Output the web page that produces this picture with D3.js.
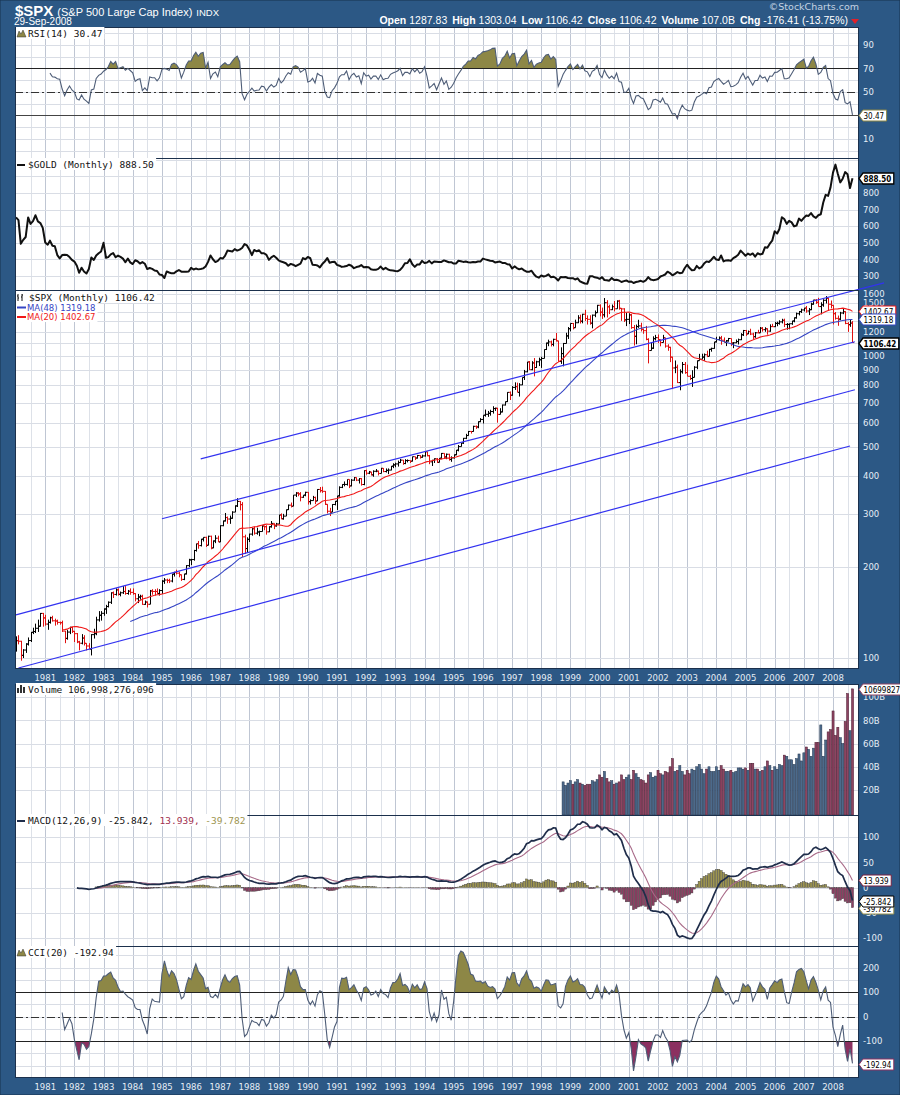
<!DOCTYPE html>
<html>
<head>
<meta charset="utf-8">
<script src="https://cdn.jsdelivr.net/npm/d3@7"></script>
<style>
body { margin: 0; background: #2c5885; }
svg { display: block; }
</style>
</head>
<body>
<svg id="chart"></svg>
<script>
// monthly data, Jan 1980 .. Sep 2008
const startYear = 1980;
const firstOpen = 107.94;

const spxClose = [
  114.16,113.66,102.09,106.29,111.24,114.24,121.67,122.38,125.46,127.47,140.52,135.76,
  129.55,131.27,136.00,132.81,132.59,131.21,130.92,122.79,116.18,121.89,126.35,122.55,
  120.40,113.11,111.96,116.44,111.88,109.61,107.09,119.51,120.42,133.71,138.54,140.64,
  145.30,148.06,152.96,164.42,162.39,168.11,162.56,164.40,166.07,163.55,166.40,164.93,
  163.41,157.06,159.18,160.05,150.55,153.18,150.66,166.68,166.10,166.09,163.58,167.24,
  179.63,181.18,180.66,179.83,189.55,191.85,190.92,188.63,182.08,189.82,202.17,211.28,
  211.78,226.92,238.90,235.52,247.35,250.84,236.12,252.93,231.32,243.98,249.22,242.17,
  274.08,284.20,291.70,288.36,290.10,304.00,318.66,329.80,321.83,251.79,230.30,247.08,
  257.07,267.82,258.89,261.33,262.16,273.50,272.02,261.52,271.91,278.97,273.70,277.72,
  297.47,288.86,294.87,309.64,320.52,317.98,346.08,351.45,349.15,340.36,345.99,353.40,
  329.08,331.89,339.94,330.80,361.23,358.02,356.15,322.56,306.05,304.00,322.22,330.22,
  343.93,367.07,375.22,375.34,389.83,371.16,387.81,395.43,387.86,392.46,375.22,417.09,
  408.79,412.70,403.69,414.95,415.35,408.14,424.21,414.03,417.80,418.68,431.35,435.71,
  438.78,443.38,451.67,440.19,450.19,450.53,448.13,463.56,458.93,467.83,461.79,466.45,
  481.61,467.14,445.77,450.91,456.50,444.27,458.26,475.49,462.69,472.35,453.69,459.27,
  470.42,487.39,500.71,514.71,533.40,544.75,562.06,561.88,584.41,581.50,605.37,615.93,
  636.02,640.43,645.50,654.17,669.12,670.63,639.95,651.99,687.31,705.27,757.02,740.74,
  786.16,790.82,757.12,801.34,848.28,885.14,954.31,899.47,947.28,914.62,955.40,970.43,
  980.28,1049.34,1101.75,1111.75,1090.82,1133.84,1120.67,957.28,1017.01,1098.67,1163.63,1229.23,
  1279.64,1238.33,1286.37,1335.18,1301.84,1372.71,1328.72,1320.41,1282.71,1362.93,1388.91,1469.25,
  1394.46,1366.42,1498.58,1452.43,1420.60,1454.60,1430.83,1517.68,1436.51,1429.40,1314.95,1320.28,
  1366.01,1239.94,1160.33,1249.46,1255.82,1224.42,1211.23,1133.58,1040.94,1059.78,1139.45,1148.08,
  1130.20,1106.73,1147.39,1076.92,1067.14,989.82,911.62,916.07,815.28,885.76,936.31,879.82,
  855.70,841.15,848.18,916.92,963.59,974.50,990.31,1008.01,995.97,1050.71,1058.20,1111.92,
  1131.13,1144.94,1126.21,1107.30,1120.68,1140.84,1101.72,1104.24,1114.58,1130.20,1173.82,1211.92,
  1181.27,1203.60,1180.59,1156.85,1191.50,1191.33,1234.18,1220.33,1228.81,1207.01,1249.48,1248.29,
  1280.08,1280.66,1294.83,1310.61,1270.09,1270.20,1276.66,1303.82,1335.85,1377.94,1400.63,1418.30,
  1438.24,1406.82,1420.86,1482.37,1530.62,1503.35,1455.27,1473.99,1526.75,1549.38,1481.14,1468.36,
  1378.55,1330.63,1322.70,1385.59,1400.38,1280.00,1267.38,1282.83,1106.42
];

const spxHigh = [
  118,119,114,107,112,117,122,126,130,134,141,141,
  139,134,137,138,135,134,132,133,123,124,127,127,
  123,121,114,120,119,112,112,120,125,137,143,143,
  146,150,154,165,166,170,170,166,173,173,168,170,
  170,164,163,162,162,155,154,168,169,169,170,169,
  181,184,183,183,190,193,196,193,189,190,203,213,
  213,228,239,244,248,251,252,254,254,245,255,254,
  275,285,302,294,296,306,320,338,331,328,256,251,
  258,269,272,270,264,275,274,275,273,284,279,280,
  298,301,300,310,322,327,346,354,354,354,346,355,
  354,335,344,342,362,368,369,357,323,314,323,331,
  344,370,376,384,390,390,391,397,396,394,394,418,
  420,416,413,418,422,417,426,425,424,424,432,441,
  443,450,456,452,455,454,450,464,464,470,469,471,
  482,482,470,453,458,459,459,477,476,475,474,465,
  472,488,507,515,535,552,564,564,587,588,607,622,
  636,664,657,663,681,674,673,671,690,706,758,762,
  794,817,815,812,848,898,954,961,960,983,963,986,
  993,1050,1106,1131,1123,1139,1190,1122,1067,1103,1192,1245,
  1280,1284,1317,1363,1368,1377,1420,1361,1362,1369,1412,1474,
  1479,1444,1553,1528,1476,1478,1518,1526,1531,1439,1437,1389,
  1383,1376,1264,1269,1316,1287,1230,1256,1143,1110,1160,1173,
  1176,1133,1173,1147,1092,1071,994,965,935,902,954,954,
  935,865,896,924,965,1015,1016,1018,1040,1054,1064,1112,
  1156,1159,1164,1150,1128,1146,1141,1110,1132,1140,1188,1218,
  1218,1212,1229,1192,1199,1219,1245,1245,1243,1233,1271,1276,
  1295,1297,1311,1326,1327,1284,1280,1306,1340,1390,1407,1432,
  1441,1462,1439,1499,1531,1540,1556,1504,1539,1576,1555,1524,
  1471,1396,1359,1398,1440,1405,1292,1314,1303
];

const spxLow = [
  105,111,98,100,104,110,113,120,121,122,127,127,
  128,124,130,132,128,129,129,122,112,115,120,121,
  113,112,106,111,110,106,107,102,116,119,132,133,
  138,140,147,151,158,161,161,160,163,162,162,162,
  162,154,152,156,150,150,147,151,162,161,163,161,
  163,176,177,177,178,186,189,185,180,181,189,200,
  203,210,225,230,234,243,233,236,229,231,240,242,
  242,273,283,278,278,289,304,316,308,216,221,223,
  242,254,256,256,253,262,265,256,261,270,267,272,
  278,288,287,296,309,315,318,341,343,330,339,343,
  322,322,332,323,331,353,352,321,301,295,304,320,
  309,342,365,370,372,365,370,386,385,378,372,373,
  404,406,402,398,412,402,409,412,411,406,418,425,
  428,430,442,436,438,444,442,447,452,457,457,460,
  464,465,438,432,442,442,444,455,457,455,450,446,
  457,469,483,501,511,530,544,553,561,573,576,603,
  597,629,628,634,644,657,601,640,650,685,703,714,
  738,771,757,733,800,832,882,898,896,855,912,925,
  912,980,1045,1076,1074,1075,1115,957,940,923,1098,1137,
  1205,1223,1247,1283,1279,1281,1304,1269,1268,1233,1342,1387,
  1350,1325,1340,1339,1374,1417,1403,1431,1421,1305,1294,1254,
  1274,1228,1081,1092,1237,1204,1183,1126,944,1041,1054,1124,
  1101,1075,1108,1064,1039,953,776,876,813,769,873,872,
  856,832,789,861,903,964,975,963,990,996,1032,1055,
  1107,1124,1088,1107,1077,1114,1078,1060,1101,1090,1127,1163,
  1164,1180,1171,1137,1147,1188,1192,1202,1201,1175,1201,1246,
  1245,1253,1268,1280,1245,1220,1224,1266,1291,1327,1360,1386,
  1403,1389,1364,1416,1476,1485,1454,1371,1453,1490,1407,1436,
  1270,1317,1257,1312,1373,1272,1200,1247,1106
];

const goldClose = [
  653,637,494,518,535,653,614,631,666,629,619,590,
  502,489,513,482,479,426,406,426,428,427,414,397,
  387,362,320,350,327,315,342,411,397,423,437,448,
  500,410,414,430,438,413,423,415,405,383,405,382,
  372,395,389,375,384,374,342,348,343,333,330,309,
  306,288,327,321,316,317,328,336,326,325,326,327,
  349,339,345,340,342,346,357,385,424,401,384,391,
  408,405,421,453,451,448,462,453,459,469,492,484,
  458,426,457,449,455,437,437,427,397,412,422,410,
  394,387,383,377,362,373,368,359,367,375,408,401,
  415,407,368,367,363,352,372,387,408,380,384,386,
  367,362,355,357,360,368,362,347,354,357,366,353,
  354,353,341,337,337,343,357,340,349,339,334,333,
  330,329,337,354,377,378,401,371,355,369,370,391,
  378,381,391,376,387,386,384,385,394,389,383,383,
  375,376,392,389,385,387,383,382,384,383,387,387,
  405,400,396,392,391,382,385,387,379,379,371,369,
  345,358,348,340,345,334,326,325,332,311,296,290,
  303,297,301,310,293,296,288,273,294,292,294,288,
  287,287,279,286,268,261,255,254,299,299,292,290,
  283,293,276,275,272,288,276,277,273,264,269,273,
  265,267,258,264,267,271,265,273,293,279,275,277,
  282,297,302,309,326,318,304,313,324,317,319,347,
  368,348,335,336,361,346,354,375,388,384,398,416,
  399,396,424,388,394,395,391,408,416,428,453,438,
  422,435,428,436,417,437,430,434,473,470,495,513,
  569,556,583,654,643,614,633,623,599,604,646,632,
  650,665,662,679,659,650,666,672,743,789,783,834,
  923,971,916,864,886,926,913,830,888.5
];

// volume in billions, Oct 1998 .. Sep 2008
const volumeStart = 225;
const volumeB = [
  27,24,26,
  28,25,27,29,26,25,24,25,25,28,27,29,
  33,31,36,30,27,28,25,26,27,33,29,31,
  33,29,37,34,31,29,28,26,33,35,31,32,
  37,34,33,36,35,40,47,36,37,41,36,33,
  37,34,38,37,40,42,38,34,38,40,36,36,
  40,37,41,38,36,36,37,35,36,39,39,38,
  39,37,43,43,38,38,36,37,40,45,41,37,
  40,38,42,41,50,49,46,46,42,47,51,45,
  52,57,55,49,56,61,61,76,49,63,70,72,
  88,67,74,65,60,79,103,71,107
];

// trend lines on the price panel: [year, month index, value]
const trendLines = [
  [[1986, 4, 456], [2009, 9, 1744]],
  [[1985, 0, 289], [2008, 9, 1113]],
  [[1980, 0, 139], [2008, 9, 772]],
  [[1980, 1, 92.7], [2008, 7, 503]]
];

// last values as printed by the chart
const lastCci = -192.94;
const lastVolume = '106,998,276,096';

const years = d3.range(1981, 2009);
const rsiTicks = [10, 50, 70, 90];
const goldTicks = [300, 400, 500, 600, 700, 800];
const spxTicks = [100, 200, 300, 400, 500, 600, 700, 800, 900, 1000, 1200, 1500, 1600];
const volTicks = [20, 40, 60, 80, 100];
const macdTicks = [-100, -50, 0, 50, 100];
const cciTicks = [-100, 0, 100, 200];

const headerStats = [['Open', '1287.83'], ['High', '1303.04'], ['Low', '1106.42'],
  ['Close', '1106.42'], ['Volume', '107.0B'], ['Chg', '-176.41 (-13.75%)']];

// ---------- indicators ----------
const n = spxClose.length;
const months = d3.range(n).map(i => new Date(startYear, i, 1));
const spxOpen = spxClose.map((c, i) => i === 0 ? firstOpen : spxClose[i - 1]);

function sma(arr, len) {
  return arr.map((_, i) => i < len - 1 ? null : d3.mean(arr.slice(i - len + 1, i + 1)));
}
function ema(arr, len) {
  const out = arr.map(() => null);
  const k = 2 / (len + 1);
  const first = arr.findIndex(v => v != null);
  const seedEnd = first + len - 1;
  let prev = d3.mean(arr.slice(first, seedEnd + 1));
  out[seedEnd] = prev;
  for (let i = seedEnd + 1; i < arr.length; i++) {
    prev = arr[i] * k + prev * (1 - k);
    out[i] = prev;
  }
  return out;
}
function rsi(arr, len) {
  const out = arr.map(() => null);
  let g = 0, l = 0;
  for (let i = 1; i <= len; i++) {
    const d = arr[i] - arr[i - 1];
    if (d > 0) g += d; else l -= d;
  }
  g /= len; l /= len;
  out[len] = 100 - 100 / (1 + g / l);
  for (let i = len + 1; i < arr.length; i++) {
    const d = arr[i] - arr[i - 1];
    g = (g * (len - 1) + Math.max(d, 0)) / len;
    l = (l * (len - 1) + Math.max(-d, 0)) / len;
    out[i] = 100 - 100 / (1 + g / l);
  }
  return out;
}
function cci(h, l, c, len) {
  const tp = c.map((v, i) => (h[i] + l[i] + v) / 3);
  return tp.map((v, i) => {
    if (i < len - 1) return null;
    const win = tp.slice(i - len + 1, i + 1);
    const m = d3.mean(win);
    const md = d3.mean(win, t => Math.abs(t - m));
    return (v - m) / (0.015 * md);
  });
}

const ma20 = sma(spxClose, 20);
const ma48 = sma(spxClose, 48);
const rsi14 = rsi(spxClose, 14);
const ema12 = ema(spxClose, 12);
const ema26 = ema(spxClose, 26);
const macd = spxClose.map((_, i) => ema26[i] == null ? null : ema12[i] - ema26[i]);
const signal = ema(macd, 9);
const hist = macd.map((m, i) => signal[i] == null ? null : m - signal[i]);
const cci20 = cci(spxHigh, spxLow, spxClose, 20);

// ---------- layout ----------
const left = 15, right = 859;
const svg = d3.select('#chart').attr('width', 900).attr('height', 1095);
svg.append('rect').attr('width', 900).attr('height', 1095)
  .attr('fill', '#2c5885').attr('stroke', '#17324f');

const x = d3.scaleTime()
  .domain([new Date(1980, 0, 1), new Date(2008, 0, 1)])
  .range([16, 833]);

const yRsi = d3.scaleLinear().domain([-6.2, 105.3]).range([158, 27]);
const yGold = d3.scaleLinear().domain([215.7, 1011]).range([290, 158]);
const ySpx = d3.scaleLog().domain([92.7, 1651]).range([668, 290]);
const yVol = d3.scaleLinear().domain([-1.5, 111.2]).range([815, 684]);
const yMacd = d3.scaleLinear().domain([-115.8, 143.6]).range([946, 815]);
const yCci = d3.scaleLinear().domain([-246.9, 287.8]).range([1077, 946]);

const halfYears = d3.timeMonths(new Date(1980, 6, 1), new Date(2008, 7, 1), 6);
const defs = svg.append('defs');
const axisFont = 'DejaVu Sans, Verdana, sans-serif';
const boxFont = 'DejaVu Sans Condensed, DejaVu Sans, sans-serif';
const monoFont = 'DejaVu Sans Mono, monospace';

function makePanel(id, y, gridVals, ticks, fmt) {
  const [bottom, top] = y.range();
  const g = svg.append('g');
  g.append('rect').attr('x', left).attr('y', top)
    .attr('width', right - left).attr('height', bottom - top).attr('fill', '#fff');
  defs.append('clipPath').attr('id', id).append('rect')
    .attr('x', left).attr('y', top).attr('width', right - left).attr('height', bottom - top);

  g.append('g').selectAll('line').data(halfYears).join('line')
    .attr('x1', d => Math.round(x(d)) + 0.5).attr('x2', d => Math.round(x(d)) + 0.5)
    .attr('y1', top).attr('y2', bottom)
    .attr('stroke', d => d.getMonth() === 0 ? '#bfc6d3' : '#dde1e8');
  g.append('g').selectAll('line').data(gridVals).join('line')
    .attr('x1', left).attr('x2', right)
    .attr('y1', d => Math.round(y(d)) + 0.5).attr('y2', d => Math.round(y(d)) + 0.5)
    .attr('stroke', '#d9dde5');

  const axis = d3.axisRight(y).tickValues(ticks).tickSize(0).tickPadding(4).tickFormat(fmt);
  const ax = svg.append('g').attr('transform', `translate(${right},0)`).call(axis);
  ax.select('.domain').remove();
  ax.selectAll('text').attr('fill', '#e6edf5')
    .style('font', `8.5px ${axisFont}`);

  const content = svg.append('g').attr('clip-path', `url(#${id})`);
  return { g, content, top, bottom };
}

function border(p) {
  svg.append('rect').attr('x', left + 0.5).attr('y', p.top + 0.5)
    .attr('width', right - left - 1).attr('height', p.bottom - p.top)
    .attr('fill', 'none').attr('stroke', '#1b304c');
}

function hline(p, y, v, stroke, dash) {
  p.content.append('line').attr('x1', left).attr('x2', right)
    .attr('y1', Math.round(y(v)) + 0.5).attr('y2', Math.round(y(v)) + 0.5)
    .attr('stroke', stroke).attr('stroke-width', 1)
    .attr('stroke-dasharray', dash || null);
}

function legend(px, py, parts, icon) {
  const t = svg.append('text').attr('x', px).attr('y', py)
    .style('font', `9.5px ${monoFont}`);
  parts.forEach(([s, c]) => t.append('tspan').attr('fill', c).text(s));
  const bb = t.node().getBBox();
  svg.insert('rect', () => t.node())
    .attr('x', 16).attr('y', bb.y - 1).attr('width', bb.x + bb.width - 14).attr('height', bb.height + 1)
    .attr('fill', '#fff');
  if (icon) icon(py);
  return t;
}

function valueBox(yPos, label, stroke, bold, color) {
  const g = svg.append('g').attr('transform', `translate(${right},${Math.round(yPos) + 0.5})`);
  const t = g.append('text').attr('x', 4.5).attr('y', 3).text(label)
    .attr('fill', color || '#000')
    .style('font', `${bold ? 'bold ' : ''}8px ${boxFont}`);
  const w = t.node().getComputedTextLength() + 7;
  g.insert('path', 'text').attr('d', `M0,0 L4,-5.5 H${w} V5.5 H4 Z`)
    .attr('fill', '#fff').attr('stroke', stroke).attr('stroke-width', bold ? 1.3 : 1);
}

function yearLabels(yPos) {
  svg.append('g').selectAll('text').data(years).join('text')
    .attr('x', d => x(new Date(d, 0, 1))).attr('y', yPos)
    .attr('text-anchor', 'middle').attr('fill', '#e6edf5')
    .style('font', `8.5px ${axisFont}`)
    .text(d => d);
}

const lineOf = (y, arr) => d3.line()
  .defined(i => arr[i] != null)
  .x(i => x(months[i])).y(i => y(arr[i]));
const idx = d3.range(n);

// ---------- header ----------
const head = svg.append('text').attr('x', 15).attr('y', 16).attr('fill', '#fff');
head.append('tspan').style('font', 'bold 15px Liberation Sans, Arial, sans-serif').text('$SPX');
head.append('tspan').attr('dx', 4).style('font', '11px Liberation Sans, Arial, sans-serif').text('(S&P 500 Large Cap Index)');
head.append('tspan').attr('dx', 4).style('font', '9.5px Liberation Sans, Arial, sans-serif').text('INDX');
svg.append('text').attr('x', 14).attr('y', 25).attr('fill', '#fff')
  .style('font', '10px Liberation Sans, Arial, sans-serif').text('29-Sep-2008');
svg.append('text').attr('x', 859).attr('y', 10).attr('text-anchor', 'end').attr('fill', '#c5d3e2')
  .style('font', '9.5px DejaVu Sans, sans-serif').text('\u00a9StockCharts.com');
const stats = svg.append('text').attr('x', 848).attr('y', 24).attr('text-anchor', 'end')
  .attr('fill', '#fff').style('font', '10.5px Liberation Sans, Arial, sans-serif');
headerStats.forEach(([k, v], i) => {
  stats.append('tspan').attr('dx', i ? 5 : 0).style('font-weight', 'bold').text(k);
  stats.append('tspan').attr('dx', 3).text(v);
});
svg.append('path').attr('d', 'M851,19 H859 L855,24 Z').attr('fill', '#e0202a');

// ---------- RSI ----------
const pRsi = makePanel('cRsi', yRsi, d3.range(0, 101, 10), rsiTicks, d => d);
const rsiArea = (base) => d3.area().defined(i => rsi14[i] != null)
  .x(i => x(months[i])).y0(yRsi(base)).y1(i => yRsi(rsi14[i]));
defs.append('clipPath').attr('id', 'rsiHi').append('rect')
  .attr('x', left).attr('y', 27).attr('width', right - left).attr('height', yRsi(70) - 27);
defs.append('clipPath').attr('id', 'rsiLo').append('rect')
  .attr('x', left).attr('y', yRsi(30)).attr('width', right - left).attr('height', 158 - yRsi(30));
pRsi.content.append('path').datum(idx).attr('d', rsiArea(70)).attr('fill', '#8d8746').attr('clip-path', 'url(#rsiHi)');
pRsi.content.append('path').datum(idx).attr('d', rsiArea(30)).attr('fill', '#8b3060').attr('clip-path', 'url(#rsiLo)');
hline(pRsi, yRsi, 70, '#222');
hline(pRsi, yRsi, 30, '#444');
hline(pRsi, yRsi, 50, '#333', '8,3,2,3');
pRsi.content.append('path').datum(idx).attr('d', lineOf(yRsi, rsi14))
  .attr('fill', 'none').attr('stroke', '#4e5d77').attr('stroke-width', 1.1);
border(pRsi);
legend(28, 37, [['RSI(14) ' + rsi14[n - 1].toFixed(2), '#111']], py => {
  svg.append('path').attr('d', `M17,${py} L19,${py - 6} L21,${py - 3} L23,${py - 7} L26,${py} Z`).attr('fill', '#8d8746').attr('stroke', '#333').attr('stroke-width', 0.5);
});
valueBox(yRsi(rsi14[n - 1]), rsi14[n - 1].toFixed(2), '#8d8746');

// ---------- Gold ----------
const pGold = makePanel('cGold', yGold, d3.range(300, 1001, 100), goldTicks, d => d);
pGold.content.append('path').datum(idx)
  .attr('d', d3.line().x(i => x(months[i])).y(i => yGold(goldClose[i])))
  .attr('fill', 'none').attr('stroke', '#111').attr('stroke-width', 2).attr('stroke-linejoin', 'round');
border(pGold);
legend(28, 168, [['$GOLD (Monthly) ' + goldClose[n - 1].toFixed(2), '#111']], py => {
  svg.append('line').attr('x1', 17).attr('x2', 25).attr('y1', py - 3).attr('y2', py - 3).attr('stroke', '#111').attr('stroke-width', 2);
});
valueBox(yGold(goldClose[n - 1]), goldClose[n - 1].toFixed(2), '#000', true);

// ---------- SPX ----------
const pSpx = makePanel('cSpx', ySpx, d3.range(100, 1601, 100), spxTicks, d => d);
pSpx.content.append('g').selectAll('path').data(idx).join('path')
  .attr('d', i => {
    const bx = Math.round(x(months[i])) + 0.5;
    const hi = Math.max(spxHigh[i], spxOpen[i], spxClose[i]);
    const lo = Math.min(spxLow[i], spxOpen[i], spxClose[i]);
    return `M${bx},${ySpx(hi)}V${ySpx(lo)}M${bx - 1.5},${ySpx(spxOpen[i])}H${bx}M${bx},${ySpx(spxClose[i])}H${bx + 1.5}`;
  })
  .attr('fill', 'none').attr('stroke-width', 1)
  .attr('stroke', i => spxClose[i] >= spxOpen[i] ? '#000' : '#e01010');
pSpx.content.append('path').datum(idx).attr('d', lineOf(ySpx, ma48))
  .attr('fill', 'none').attr('stroke', '#3545c4').attr('stroke-width', 1.1);
pSpx.content.append('path').datum(idx).attr('d', lineOf(ySpx, ma20))
  .attr('fill', 'none').attr('stroke', '#f01818').attr('stroke-width', 1.1);
svg.append('g').selectAll('line').data(trendLines).join('line')
  .attr('x1', d => x(new Date(d[0][0], d[0][1], 1))).attr('y1', d => ySpx(d[0][2]))
  .attr('x2', d => x(new Date(d[1][0], d[1][1], 1))).attr('y2', d => ySpx(d[1][2]))
  .attr('stroke', '#3232f0').attr('stroke-width', 1.2);
border(pSpx);
legend(29, 301, [['$SPX (Monthly) ' + spxClose[n - 1].toFixed(2), '#111']], py => {
  svg.append('path').attr('d', `M18,${py - 7}V${py}M17,${py - 5}H18M18,${py - 3}H19M22,${py - 7}V${py}M21,${py - 4}H22M22,${py - 6}H23`)
    .attr('stroke', '#111').attr('fill', 'none');
});
[['MA(48) ' + ma48[n - 1].toFixed(2), '#3545c4', 310.5], ['MA(20) ' + ma20[n - 1].toFixed(2), '#f01818', 320]].forEach(([s, c, py]) => {
  const t = svg.append('text').attr('x', 27).attr('y', py).attr('fill', c)
    .style('font', `8.5px ${axisFont}`).text(s);
  const bb = t.node().getBBox();
  svg.insert('rect', () => t.node()).attr('x', 16).attr('y', bb.y).attr('width', bb.x + bb.width - 14)
    .attr('height', bb.height).attr('fill', '#fff');
  svg.append('line').attr('x1', 17).attr('x2', 26).attr('y1', py - 3).attr('y2', py - 3)
    .attr('stroke', c).attr('stroke-width', 2);
});
yearLabels(681);
valueBox(ySpx(ma20[n - 1]), ma20[n - 1].toFixed(2), '#f01818');
valueBox(ySpx(ma48[n - 1]), ma48[n - 1].toFixed(2), '#3545c4');
valueBox(ySpx(spxClose[n - 1]), spxClose[n - 1].toFixed(2), '#000', true);

// ---------- Volume ----------
const pVol = makePanel('cVol', yVol, d3.range(20, 101, 20), volTicks, d => d + 'B');
pVol.content.append('g').selectAll('rect').data(volumeB).join('rect')
  .attr('x', (v, j) => x(months[volumeStart + j]) - 1)
  .attr('width', 2.1)
  .attr('y', v => yVol(v))
  .attr('height', v => 815 - yVol(v))
  .attr('fill', (v, j) => spxClose[volumeStart + j] >= spxOpen[volumeStart + j] ? '#4c6a8b' : '#8e4462')
  .attr('stroke', (v, j) => spxClose[volumeStart + j] >= spxOpen[volumeStart + j] ? '#22354f' : '#4a1c30')
  .attr('stroke-width', 0.5);
border(pVol);
legend(28, 693, [['Volume ' + lastVolume, '#111']], py => {
  svg.append('path').attr('d', `M17,${py}V${py - 5}H19V${py}M20,${py}V${py - 8}H22V${py}M23,${py}V${py - 6}H25V${py}`)
    .attr('fill', '#333');
});
valueBox(yVol(volumeB[volumeB.length - 1]), lastVolume.replace(/,/g, ''), '#8e4462');

// ---------- MACD ----------
const pMacd = makePanel('cMacd', yMacd, d3.range(-100, 101, 50), macdTicks, d => d);
pMacd.content.append('g').selectAll('rect').data(idx.filter(i => hist[i] != null)).join('rect')
  .attr('x', i => x(months[i]) - 1.1)
  .attr('width', 2.2)
  .attr('y', i => Math.min(yMacd(0), yMacd(hist[i])))
  .attr('height', i => Math.abs(yMacd(hist[i]) - yMacd(0)))
  .attr('fill', i => hist[i] >= 0 ? '#9d9550' : '#8d3f63')
  .attr('stroke', '#3a3a3a').attr('stroke-width', 0.4);
pMacd.content.append('path').datum(idx).attr('d', lineOf(yMacd, signal))
  .attr('fill', 'none').attr('stroke', '#a86a88').attr('stroke-width', 1.1);
pMacd.content.append('path').datum(idx).attr('d', lineOf(yMacd, macd))
  .attr('fill', 'none').attr('stroke', '#1f2d4a').attr('stroke-width', 1.7);
border(pMacd);
legend(28, 824, [
  ['MACD(12,26,9) ', '#111'], [macd[n - 1].toFixed(3) + ', ', '#111'],
  [signal[n - 1].toFixed(3) + ', ', '#a0304e'], [hist[n - 1].toFixed(3), '#9d9550']
], py => {
  svg.append('line').attr('x1', 17).attr('x2', 25).attr('y1', py - 3).attr('y2', py - 3).attr('stroke', '#1f2d4a').attr('stroke-width', 2);
});
valueBox(yMacd(hist[n - 1]), hist[n - 1].toFixed(3), '#9d9550');
valueBox(yMacd(signal[n - 1]), signal[n - 1].toFixed(3), '#7a2040');
valueBox(yMacd(macd[n - 1]), macd[n - 1].toFixed(3), '#000');

// ---------- CCI ----------
const pCci = makePanel('cCci', yCci, d3.range(-200, 251, 50), cciTicks, d => d);
const cciArea = (base) => d3.area().defined(i => cci20[i] != null)
  .x(i => x(months[i])).y0(yCci(base)).y1(i => yCci(cci20[i]));
defs.append('clipPath').attr('id', 'cciHi').append('rect')
  .attr('x', left).attr('y', 946).attr('width', right - left).attr('height', yCci(100) - 946);
defs.append('clipPath').attr('id', 'cciLo').append('rect')
  .attr('x', left).attr('y', yCci(-100)).attr('width', right - left).attr('height', 1077 - yCci(-100));
pCci.content.append('path').datum(idx).attr('d', cciArea(100)).attr('fill', '#8d8746').attr('clip-path', 'url(#cciHi)');
pCci.content.append('path').datum(idx).attr('d', cciArea(-100)).attr('fill', '#8b3060').attr('clip-path', 'url(#cciLo)');
hline(pCci, yCci, 100, '#222');
hline(pCci, yCci, -100, '#222');
hline(pCci, yCci, 0, '#333', '8,3,2,3');
pCci.content.append('path').datum(idx).attr('d', lineOf(yCci, cci20))
  .attr('fill', 'none').attr('stroke', '#4e5d77').attr('stroke-width', 1.1);
border(pCci);
legend(28, 956, [['CCI(20) ' + lastCci.toFixed(2), '#111']], py => {
  svg.append('path').attr('d', `M17,${py} L19,${py - 6} L21,${py - 3} L23,${py - 7} L26,${py} Z`).attr('fill', '#8d8746').attr('stroke', '#333').attr('stroke-width', 0.5);
});
valueBox(yCci(lastCci), lastCci.toFixed(2), '#8b3060');
yearLabels(1090);
</script>
</body>
</html>
